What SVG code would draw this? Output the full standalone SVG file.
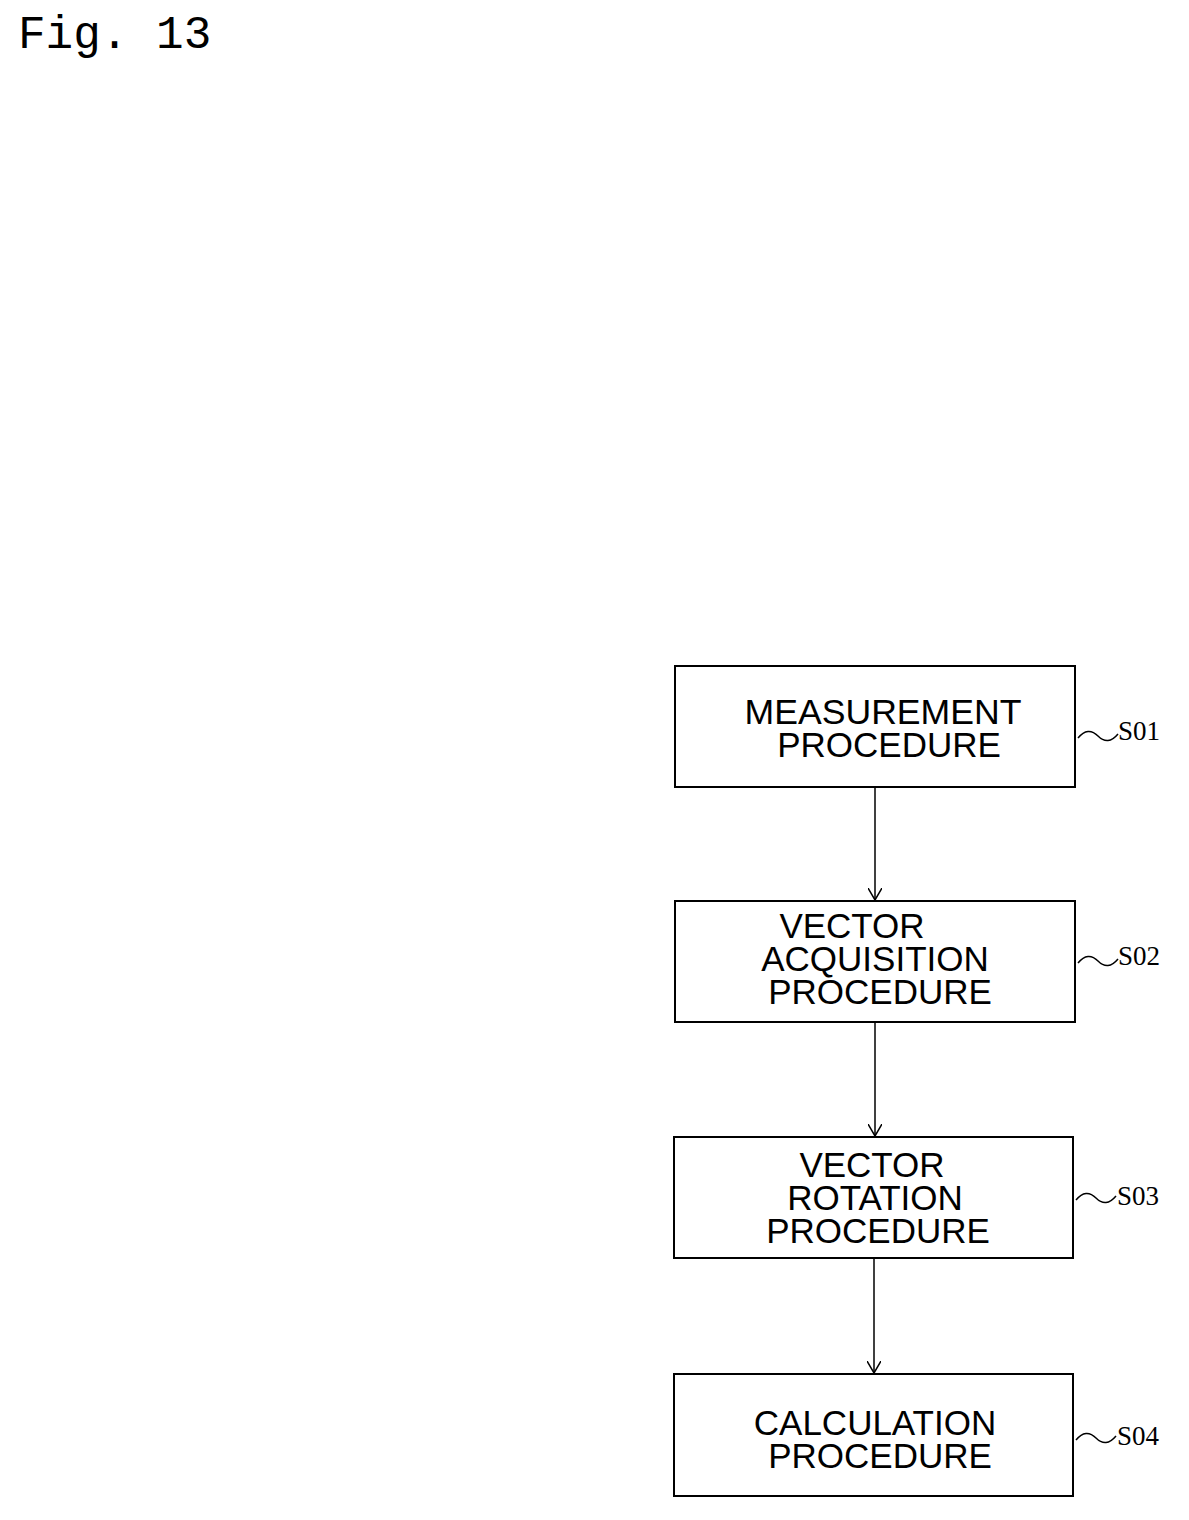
<svg xmlns="http://www.w3.org/2000/svg" width="1189" height="1520" viewBox="0 0 1189 1520">
<style>
.box{fill:#fff;stroke:#000;stroke-width:2}
.t{font-family:"Liberation Sans",Arial,sans-serif;font-size:35px;text-anchor:middle;fill:#000}
.lb{font-family:"Liberation Serif","Times New Roman",serif;font-size:27px;fill:#000}
.sq{fill:none;stroke:#000;stroke-width:1.5}
.c{fill:none;stroke:#000;stroke-width:1.5}
</style>
<defs><marker id="a" markerWidth="14" markerHeight="14" refX="12" refY="7" orient="auto" markerUnits="userSpaceOnUse"><path d="M0,0 L12,7 L0,14" fill="none" stroke="#000" stroke-width="1.5"/></marker></defs>
<rect width="1189" height="1520" fill="#fff"/>
<text x="18" y="48" style="font-family:'Liberation Mono','Courier New',monospace;font-size:46px">Fig. 13</text>
<g id="connectors">
<line class="c" x1="875" y1="787" x2="875" y2="900" marker-end="url(#a)"/>
<line class="c" x1="875" y1="1022" x2="875" y2="1136" marker-end="url(#a)"/>
<line class="c" x1="874" y1="1258" x2="874" y2="1373" marker-end="url(#a)"/>
</g>
<g id="S01"><rect class="box" x="675" y="666" width="400" height="121"/>
<text class="t" x="883" y="724" textLength="277" lengthAdjust="spacingAndGlyphs">MEASUREMENT</text><text class="t" x="889" y="757">PROCEDURE</text>
<path class="sq" d="M1078,738 q10,-12 20,-2 t20,-2"/><text class="lb" x="1118" y="740">S01</text></g>
<g id="S02"><rect class="box" x="675" y="901" width="400" height="121"/>
<text class="t" x="852" y="938">VECTOR</text><text class="t" x="875" y="971">ACQUISITION</text><text class="t" x="880" y="1004">PROCEDURE</text>
<path class="sq" d="M1078,963 q10,-12 20,-2 t20,-2"/><text class="lb" x="1118" y="965">S02</text></g>
<g id="S03"><rect class="box" x="674" y="1137" width="399" height="121"/>
<text class="t" x="872" y="1177">VECTOR</text><text class="t" x="875" y="1210">ROTATION</text><text class="t" x="878" y="1243">PROCEDURE</text>
<path class="sq" d="M1076,1200 q10,-12 20,-2 t20,-2"/><text class="lb" x="1117" y="1205">S03</text></g>
<g id="S04"><rect class="box" x="674" y="1374" width="399" height="122"/>
<text class="t" x="875" y="1435">CALCULATION</text><text class="t" x="880" y="1468">PROCEDURE</text>
<path class="sq" d="M1076,1440 q10,-12 20,-2 t20,-2"/><text class="lb" x="1117" y="1445">S04</text></g>
</svg>
